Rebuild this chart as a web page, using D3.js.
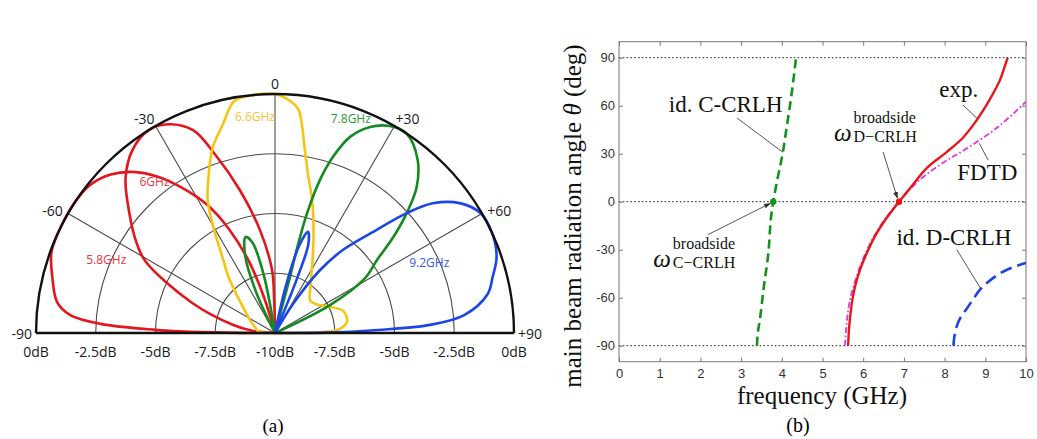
<!DOCTYPE html>
<html>
<head>
<meta charset="utf-8">
<script src="https://cdn.jsdelivr.net/npm/d3@7"></script>
<style>
body { margin: 0; background: #fff; }
svg { display: block; }
</style>
</head>
<body>
<svg id="chart" width="1037" height="439"></svg>
<script>
// ---------- (a) polar patterns: [angle (deg), level (dB)] ----------
const dbTicks = [0, -2.5, -5, -7.5, -10];
const angleTicks = [-90, -60, -30, 0, 30, 60, 90];

const lobe58 = [[-90,-10],[-89.6,-8],[-89,-6],[-88.5,-5],[-87,-2.7],[-85,-1.4],[-82,-0.8],[-76,-0.4],
  [-70,-0.05],[-63,0],[-56,0],[-51,-0.1],[-46,-0.45],[-41.5,-1],[-37,-1.8],[-33,-2.7],[-28,-3.9],
  [-24,-5.2],[-20,-6.8],[-17,-8.5],[-15,-10]];
const lobe60 = [[-88,-10],[-84,-9],[-79,-8.2],[-70,-6.3],[-61,-3.8],[-57,-3.1],[-50.5,-2.1],[-44,-1],
  [-38,-0.3],[-32,0],[-27,-0.2],[-22,-0.85],[-18.6,-2.1],[-13.8,-3.85],[-8.3,-5.65],[-2.7,-7.35],
  [-1.5,-8.6],[-1,-10]];
const lobe66 = [[-90,-10],[-85,-9.3],[-78,-9.2],[-65,-8.9],[-50,-8.2],[-40,-7],[-35,-6.2],[-30,-4.8],
  [-27,-3.8],[-23.5,-3],[-18.5,-1.8],[-14,-1],[-10,-0.15],[-5,0],[0,0],[4,-0.3],[6,-0.6],[9.3,-2.25],
  [12,-3.3],[15.5,-4.2],[21,-5.5],[27.5,-6.6],[38,-7.6],[47.5,-8],[55,-7.9],[62,-7.6],[72,-7],
  [81,-6.95],[86.5,-7.3],[89,-8.1],[90,-10]];
const lobe78 = [[14,-10],[15,-7.6],[14.6,-6.3],[15,-4.8],[16.4,-3.3],[18.2,-2.25],[21,-1.2],[24.8,-0.5],
  [29,-0.1],[33.4,0],[39.4,-0.6],[44.2,-1.5],[47.7,-2.55],[50.9,-3.6],[54.4,-4.75],[58.7,-5.6],
  [63,-7.4],[66,-10]];
const side78 = [[-28,-10],[-25,-8.2],[-21,-6.5],[-17,-5.8],[-14,-6.1],[-11,-7.5],[-8,-10]];
const lobe92 = [[28,-10],[32,-8.5],[35.5,-6.8],[39.3,-5.5],[44.7,-3.9],[47.7,-2.55],[50.6,-1.45],
  [54.9,-0.55],[59.7,-0.05],[65.4,0],[71.1,-0.2],[75.6,-0.6],[79.6,-0.95],[84.6,-2.05],[87,-3.5],
  [88.3,-5.7],[89.6,-7.9],[90,-10]];
const side92 = [[11,-10],[13,-8],[15.5,-6.2],[18,-5.55],[20.5,-6],[22,-7.5],[24,-10]];

// ---------- (b) beam angle vs frequency: [frequency (GHz), angle (deg)] ----------
const freqTicks = [0,1,2,3,4,5,6,7,8,9,10];
const thetaTicks = [-90,-60,-30,0,30,60,90];
const idCCRLH = [[3.39,-90],[3.41,-82],[3.46,-74],[3.56,-53],[3.67,-32],[3.73,-11],[3.79,0],
  [3.9,15],[4.02,30],[4.11,45],[4.2,60],[4.28,75],[4.35,90]];
const expData = [[5.63,-90],[5.65,-80],[5.68,-72],[5.73,-62],[5.8,-53],[5.93,-42],[6.09,-32],[6.3,-21],
  [6.54,-11.4],[6.88,0],[7.2,10],[7.56,21],[8.05,31],[8.45,40],[8.79,51],[9.02,60],[9.2,68],
  [9.36,76],[9.47,84],[9.55,90]];
const fdtdData = [[5.55,-90],[5.58,-80],[5.61,-72],[5.67,-62],[5.76,-53],[5.9,-42],[6.06,-32],[6.28,-21],
  [6.53,-11],[6.88,0],[7.2,9],[7.45,15],[8,25],[8.56,33.5],[9.3,46.5],[10,62.5]];
const idDCRLH = [[8.22,-90],[8.23,-86],[8.26,-82],[8.31,-77],[8.4,-72],[8.54,-67],[8.7,-61],[8.87,-55],
  [9.1,-49.5],[9.36,-44.8],[9.65,-41.2],[10,-38.3]];
const broadside = [[3.79,0],[6.88,0]];

const svg = d3.select("#chart");
const rad = d => d * Math.PI / 180;

// ================= (a) =================
const cx = 275, cy = 333, R = 239;
const r = d3.scaleLinear().domain([-10, 0]).range([0, R]);
const gp = svg.append("g").attr("transform", `translate(${cx},${cy})`);

// rings
[-7.5, -5, -2.5].forEach(db => {
  const p = d3.path();
  p.moveTo(-r(db), 0);
  p.arc(0, 0, r(db), Math.PI, 2 * Math.PI);
  gp.append("path").attr("d", p.toString())
    .attr("fill", "none").attr("stroke", "#4a4a4a").attr("stroke-width", 1.1);
});
// spokes
angleTicks.filter(a => Math.abs(a) < 90).forEach(a => {
  gp.append("line")
    .attr("x1", 0).attr("y1", 0)
    .attr("x2", R * Math.sin(rad(a))).attr("y2", -R * Math.cos(rad(a)))
    .attr("stroke", "#4a4a4a").attr("stroke-width", 1.1);
});

const radial = d3.lineRadial()
  .angle(d => rad(d[0]))
  .radius(d => r(d[1]))
  .curve(d3.curveCatmullRom.alpha(0.5));

const lobes = [
  { d: lobe58, c: "#e3161d" },
  { d: lobe60, c: "#e3161d" },
  { d: lobe66, c: "#f6c512" },
  { d: side78, c: "#158a22" },
  { d: lobe78, c: "#158a22" },
  { d: side92, c: "#1c47e6" },
  { d: lobe92, c: "#1c47e6" },
];
gp.selectAll("path.lobe")
  .data(lobes)
  .enter()
  .append("path")
  .attr("class", "lobe")
  .attr("d", l => radial(l.d))
  .attr("fill", "none")
  .attr("stroke", l => l.c)
  .attr("stroke-width", 2.6)
  .attr("stroke-linejoin", "round");

// outer ring and base line
const outer = d3.path();
outer.moveTo(-R, 0);
outer.arc(0, 0, R, Math.PI, 2 * Math.PI);
gp.append("path").attr("d", outer.toString())
  .attr("fill", "none").attr("stroke", "#111").attr("stroke-width", 2.4);
gp.append("line").attr("x1", -R).attr("x2", R).attr("y1", 0).attr("y2", 0)
  .attr("stroke", "#111").attr("stroke-width", 2.4);

// angle labels
const sans = "'Open Sans', 'Noto Sans', sans-serif";
angleTicks.forEach(a => {
  const abs = Math.abs(a);
  const off = abs === 90 ? 4 : abs === 60 ? 6 : a === 0 ? 5 : 2;
  const px = (R + off) * Math.sin(rad(a)), py = -(R + off) * Math.cos(rad(a));
  gp.append("text")
    .attr("x", px).attr("y", py)
    .attr("text-anchor", a < 0 ? "end" : a > 0 ? "start" : "middle")
    .attr("dominant-baseline", abs >= 60 ? "central" : "auto")
    .style("font-family", sans).style("font-size", "14px").style("fill", "#1a1a1a")
    .text(a > 0 ? "+" + a : String(a));
});
// dB labels
const dbAll = dbTicks.concat(dbTicks.slice(0, -1).reverse());
dbAll.forEach((db, i) => {
  const side = i < dbTicks.length - 1 ? -1 : (i === dbTicks.length - 1 ? 0 : 1);
  gp.append("text")
    .attr("x", side * r(db)).attr("y", 18)
    .attr("text-anchor", "middle").attr("dominant-baseline", "central")
    .style("font-family", sans).style("font-size", "14px").style("fill", "#1a1a1a")
    .text(db + "dB");
});
// frequency labels [text, angle, level]
const lobeLabels = [
  { t: "5.8GHz", a: -66.5, db: -2.3, c: "#e8353d" },
  { t: "6GHz", a: -38.5, db: -1.9, c: "#e8353d" },
  { t: "6.6GHz", a: -5.3, db: -0.9, c: "#f2c232" },
  { t: "7.8GHz", a: 19.5, db: -0.5, c: "#2a9a36" },
  { t: "9.2GHz", a: 65.4, db: -2.9, c: "#3559e6" },
];
lobeLabels.forEach(l => {
  gp.append("text")
    .attr("x", r(l.db) * Math.sin(rad(l.a))).attr("y", -r(l.db) * Math.cos(rad(l.a)))
    .attr("text-anchor", "middle").attr("dominant-baseline", "central")
    .style("font-family", sans).style("font-size", "12px").style("fill", l.c)
    .text(l.t);
});

const serif = "'Liberation Serif', 'Times New Roman', serif";
svg.append("text").attr("x", 273).attr("y", 432).attr("text-anchor", "middle")
  .style("font-family", serif).style("font-size", "19px").text("(a)");

// ================= (b) =================
const x = d3.scaleLinear().domain([0, 10]).range([619, 1026]);
const y = d3.scaleLinear().domain([-100, 100]).range([361.7, 41.7]);
const gb = svg.append("g");

// dotted reference lines
[90, 0, -90].forEach(t => {
  gb.append("line")
    .attr("x1", x(0)).attr("x2", x(10)).attr("y1", y(t)).attr("y2", y(t))
    .attr("stroke", "#222").attr("stroke-width", 1).attr("stroke-dasharray", "1.6,2.2");
});

const axisStyle = g => {
  g.select(".domain").remove();
  g.selectAll(".tick line").attr("stroke", "#777");
  g.selectAll(".tick text").style("font-family", "'Liberation Sans', Arial, sans-serif")
    .style("font-size", "13px").style("fill", "#333");
};
gb.append("g").attr("transform", `translate(0,${y(-100)})`)
  .call(d3.axisBottom(x).tickValues(freqTicks).tickSize(-4).tickPadding(7)).call(axisStyle);
gb.append("g").attr("transform", `translate(0,${y(100)})`)
  .call(d3.axisTop(x).tickValues(freqTicks).tickSize(-4).tickFormat("")).call(axisStyle);
gb.append("g").attr("transform", `translate(${x(0)},0)`)
  .call(d3.axisLeft(y).tickValues(thetaTicks).tickSize(-4).tickPadding(4)).call(axisStyle);
gb.append("g").attr("transform", `translate(${x(10)},0)`)
  .call(d3.axisRight(y).tickValues(thetaTicks).tickSize(-4).tickFormat("")).call(axisStyle);
gb.selectAll(".tick text").text(function () { return this.textContent.replace("\u2212", "-"); });

gb.append("rect")
  .attr("x", x(0)).attr("y", y(100))
  .attr("width", x(10) - x(0)).attr("height", y(-100) - y(100))
  .attr("fill", "none").attr("stroke", "#777").attr("stroke-width", 1);

svg.append("clipPath").attr("id", "plotclip").append("rect")
  .attr("x", x(0)).attr("y", y(100))
  .attr("width", x(10) - x(0)).attr("height", y(-100) - y(100));

const line = d3.line()
  .x(d => x(d[0])).y(d => y(d[1]))
  .curve(d3.curveCatmullRom.alpha(0.5));

const series = [
  { d: idCCRLH, c: "#17901f", w: 2.6, dash: "9,5" },
  { d: fdtdData, c: "#e036e0", w: 1.8, dash: "6,2.5,1.6,2.5" },
  { d: expData, c: "#e8161a", w: 2.4, dash: null },
  { d: idDCRLH, c: "#1a42e4", w: 2.6, dash: "12,6" },
];
gb.append("g").attr("clip-path", "url(#plotclip)")
  .selectAll("path")
  .data(series)
  .enter()
  .append("path")
  .attr("d", s => line(s.d))
  .attr("fill", "none")
  .attr("stroke", s => s.c)
  .attr("stroke-width", s => s.w)
  .attr("stroke-dasharray", s => s.dash);

gb.selectAll("circle.bs")
  .data(broadside)
  .enter()
  .append("circle")
  .attr("class", "bs")
  .attr("cx", d => x(d[0])).attr("cy", d => y(d[1]))
  .attr("r", 3.2)
  .attr("fill", (d, i) => i === 0 ? "#17901f" : "#e8161a");

// annotation pointers, in data units [f1, t1, f2, t2]
svg.append("defs").append("marker")
  .attr("id", "arr").attr("viewBox", "0 0 10 10").attr("refX", 9).attr("refY", 5)
  .attr("markerWidth", 7).attr("markerHeight", 7).attr("orient", "auto")
  .append("path").attr("d", "M0,1.5L10,5L0,8.5Z").attr("fill", "#333");

const pointers = [
  { p: [2.9, 52.3, 4.02, 31], arrow: false },
  { p: [2.19, -20.5, 3.72, -1], arrow: true },
  { p: [8.45, 60.5, 8.8, 52], arrow: false },
  { p: [9.07, 26, 8.85, 36.5], arrow: false },
  { p: [6.49, 31, 6.84, 2.2], arrow: true },
  { p: [8.3, -30, 8.88, -54], arrow: false },
];
pointers.forEach(a => {
  svg.append("line")
    .attr("x1", x(a.p[0])).attr("y1", y(a.p[1]))
    .attr("x2", x(a.p[2])).attr("y2", y(a.p[3]))
    .attr("stroke", "#555").attr("stroke-width", 1)
    .attr("marker-end", a.arrow ? "url(#arr)" : null);
});

// plain annotation texts [text, f, theta] (baseline)
const notes = [
  { t: "id. C-CRLH", f: 2.62, th: 56 },
  { t: "exp.", f: 8.35, th: 65.5 },
  { t: "FDTD", f: 9.05, th: 13.5 },
  { t: "id. D-CRLH", f: 8.23, th: -27 },
];
notes.forEach(n => {
  svg.append("text")
    .attr("x", x(n.f)).attr("y", y(n.th)).attr("text-anchor", "middle")
    .style("font-family", serif).style("font-size", "23px").style("fill", "#111")
    .text(n.t);
});

// omega labels
const omegas = [
  { sub: "C\u2212CRLH", f: 0.84, th: -41 },
  { sub: "D\u2212CRLH", f: 5.28, th: 38 },
];
omegas.forEach(o => {
  const x0 = x(o.f), b = y(o.th);
  const om = svg.append("text").attr("x", x0).attr("y", b)
    .style("font-family", serif).style("font-style", "italic").style("font-size", "25px")
    .style("fill", "#111").text("\u03c9");
  const xs = x0 + om.node().getComputedTextLength() + 2;
  svg.append("text").attr("x", xs).attr("y", b - 18)
    .style("font-family", serif).style("font-size", "16px").style("fill", "#111").text("broadside");
  svg.append("text").attr("x", xs).attr("y", b + 1)
    .style("font-family", serif).style("font-size", "16px").style("fill", "#111").text(o.sub);
});

// axis titles
svg.append("text").attr("x", 822).attr("y", 404).attr("text-anchor", "middle")
  .style("font-family", serif).style("font-size", "25px").style("fill", "#111")
  .text("frequency (GHz)");
const yl = svg.append("text")
  .attr("transform", "translate(581,216) rotate(-90)")
  .attr("text-anchor", "middle")
  .style("font-family", serif).style("font-size", "25px").style("fill", "#111");
yl.append("tspan").text("main beam radiation angle ");
yl.append("tspan").style("font-style", "italic").text("\u03b8");
yl.append("tspan").text(" (deg)");

svg.append("text").attr("x", 798).attr("y", 432).attr("text-anchor", "middle")
  .style("font-family", serif).style("font-size", "20px").text("(b)");
</script>
</body>
</html>
